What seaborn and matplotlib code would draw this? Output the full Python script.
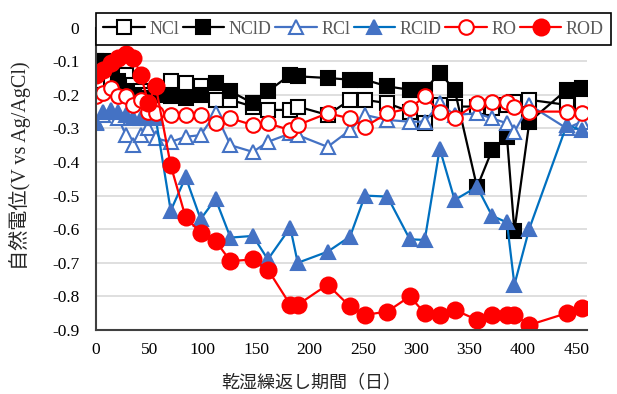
import numpy as np
import pandas as pd
import matplotlib
matplotlib.use("Agg")
import matplotlib.pyplot as plt
import seaborn as sns

# ---------------- data ----------------
days = [0, 7, 14, 21, 28, 35, 42, 49, 56, 70, 84, 98, 112, 126, 147, 161, 182, 189,
        217, 238, 252, 273, 294, 308, 322, 336, 357, 371, 385, 392, 406, 441, 455]

ncl = [-0.18, -0.16, -0.15, -0.14, -0.14, -0.17, -0.19, -0.20, -0.19, -0.16, -0.165, -0.175,
       -0.215, -0.215, -0.235, -0.245, -0.245, -0.235, -0.26, -0.215, -0.215, -0.225, -0.25,
       -0.285, -0.23, -0.235, -0.235, -0.24, -0.23, -0.22, -0.215, -0.23, -0.225]
ncld = [-0.10, -0.10, -0.11, -0.16, -0.19, -0.20, -0.21, -0.21, -0.20, -0.205, -0.21, -0.20,
        -0.165, -0.19, -0.225, -0.19, -0.14, -0.145, -0.15, -0.155, -0.155, -0.175, -0.185,
        -0.185, -0.135, -0.185, -0.475, -0.365, -0.325, -0.605, -0.28, -0.185, -0.18]
rcl = [-0.28, -0.26, -0.25, -0.27, -0.32, -0.35, -0.32, -0.30, -0.33, -0.34, -0.325, -0.32,
       -0.255, -0.35, -0.37, -0.34, -0.315, -0.32, -0.355, -0.305, -0.26, -0.275, -0.28,
       -0.28, -0.225, -0.26, -0.255, -0.27, -0.285, -0.31, -0.23, -0.30, -0.28]
rcld = [-0.285, -0.25, -0.245, -0.25, -0.26, -0.27, -0.27, -0.27, -0.27, -0.545, -0.445, -0.57,
        -0.51, -0.625, -0.62, -0.69, -0.595, -0.70, -0.667, -0.622, -0.50, -0.503, -0.63,
        -0.632, -0.36, -0.513, -0.474, -0.56, -0.58, -0.765, -0.598, -0.29, -0.305]
ro = [-0.205, -0.195, -0.18, -0.205, -0.205, -0.23, -0.215, -0.25, -0.255, -0.26, -0.26, -0.26,
      -0.285, -0.27, -0.29, -0.285, -0.305, -0.29, -0.255, -0.27, -0.295, -0.255, -0.24,
      -0.205, -0.25, -0.27, -0.225, -0.22, -0.22, -0.235, -0.25, -0.25, -0.255]
rod = [-0.14, -0.125, -0.105, -0.09, -0.08, -0.09, -0.14, -0.225, -0.175, -0.41, -0.565, -0.61,
       -0.635, -0.695, -0.69, -0.72, -0.825, -0.825, -0.765, -0.83, -0.855, -0.845, -0.80,
       -0.85, -0.855, -0.84, -0.87, -0.855, -0.855, -0.855, -0.885, -0.85, -0.835]

series_names = ["NCl", "NClD", "RCl", "RClD", "RO", "ROD"]
series_values = [ncl, ncld, rcl, rcld, ro, rod]

xticks = [0, 50, 100, 150, 200, 250, 300, 350, 400, 450]
yticks = [0, -0.1, -0.2, -0.3, -0.4, -0.5, -0.6, -0.7, -0.8, -0.9]
ytick_labels = ["0", "-0.1", "-0.2", "-0.3", "-0.4", "-0.5", "-0.6", "-0.7", "-0.8", "-0.9"]
xlabel = "乾湿繰返し期間（日）"
ylabel = "自然電位(V vs Ag/AgCl)"

# ---------------- style ----------------
sns.set_theme(style="white")
plt.rcParams["font.family"] = ["Liberation Serif", "Noto Sans CJK JP"]
plt.rcParams["axes.unicode_minus"] = False

styles = {
    "NCl":  dict(color="black", marker="s", markerfacecolor="white", markeredgecolor="black", markersize=9.5),
    "NClD": dict(color="black", marker="s", markerfacecolor="black", markeredgecolor="black", markersize=9.5),
    "RCl":  dict(color="#4472C4", marker="^", markerfacecolor="white", markeredgecolor="#4472C4", markersize=10.5),
    "RClD": dict(color="#0070C0", marker="^", markerfacecolor="#4472C4", markeredgecolor="#4472C4", markersize=10.5),
    "RO":   dict(color="#FF0000", marker="o", markerfacecolor="white", markeredgecolor="#FF0000", markersize=10.5),
    "ROD":  dict(color="#FF0000", marker="o", markerfacecolor="#FF0000", markeredgecolor="#FF0000", markersize=11.5),
}

df = pd.DataFrame({"day": np.tile(days, len(series_names)),
                   "value": np.concatenate(series_values),
                   "series": np.repeat(series_names, len(days))})

fig = plt.figure(figsize=(6.17, 3.94), dpi=100)
ax = fig.add_axes([96 / 617, 1 - 330 / 394, (587 - 96) / 617, (330 - 27.6) / 394])

handles = []
for name in series_names:
    sub = df[df["series"] == name]
    st = styles[name]
    sns.lineplot(data=sub, x="day", y="value", ax=ax, color=st["color"], marker=st["marker"],
                 markerfacecolor=st["markerfacecolor"], markeredgecolor=st["markeredgecolor"],
                 markersize=st["markersize"], markeredgewidth=1.5, linewidth=1.6,
                 estimator=None, sort=False, errorbar=None, legend=False)
    handles.append(ax.lines[-1])

ax.set_xlim(0, 460)
ax.set_ylim(-0.9, 0)
ax.set_xticks(xticks)
ax.set_xticklabels([str(t) for t in xticks])
ax.set_yticks(yticks)
ax.set_yticklabels(ytick_labels)
ax.grid(axis="y", color="#D9D9D9", linewidth=1.2)
ax.set_axisbelow(True)
for s in ["top", "right"]:
    ax.spines[s].set_visible(False)
for s in ["left", "bottom"]:
    ax.spines[s].set_color("#404040")
    ax.spines[s].set_linewidth(1.5)
ax.tick_params(axis="both", direction="in", length=4, width=1.2, color="#404040",
               labelsize=12.5, labelcolor="black")
ax.tick_params(axis="y", pad=12)
ax.tick_params(axis="x", pad=9)

ax.set_xlabel("")
ax.set_ylabel("")
fig.text(311 / 617, 1 - 383 / 394, xlabel, ha="center", va="center", fontsize=13,
         family=["Noto Sans CJK JP"], color="#262626")
fig.text(20 / 617, 1 - 166 / 394, ylabel, ha="center", va="center", rotation=90,
         fontsize=14.5, family=["Liberation Serif", "Noto Sans CJK JP"], color="#262626")

leg = ax.legend(handles, series_names, ncol=6, loc="center",
                bbox_to_anchor=(96 / 617, 1 - 46 / 394, (611 - 96) / 617, 34 / 394),
                bbox_transform=fig.transFigure, mode="expand", frameon=True, fancybox=False,
                edgecolor="black", framealpha=1, fontsize=13, handlelength=2.3,
                handletextpad=0.25, borderaxespad=0, columnspacing=0.8, borderpad=0.4)
leg.get_frame().set_linewidth(1.2)
for t in leg.get_texts():
    t.set_color("#595959")

fig.savefig("out.png", dpi=100)
